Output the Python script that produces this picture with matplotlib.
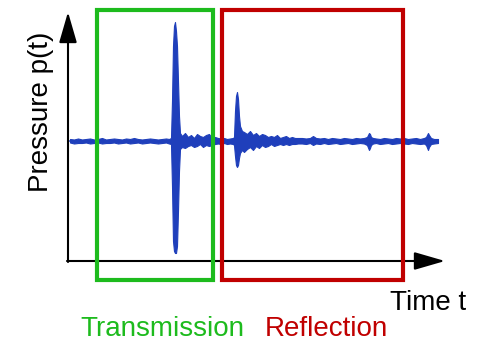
import matplotlib.pyplot as plt
from matplotlib.patches import Rectangle

# time samples (chart units, left to right) and envelope of the pressure trace
# (amplitude above / below the zero line)
t_noise1 = [70, 74, 78, 82, 86, 90, 94, 98, 102, 106, 110, 114, 118, 122,
            126, 130, 134, 138, 142, 146, 150, 154, 158, 162, 166, 169]
up_noise1 = [2, 1.5, 2.5, 1.5, 2, 2.5, 1.5, 2, 3, 1.5, 2, 2.5, 2, 1.5,
             2.5, 2, 3, 2, 1.5, 2, 2.5, 2, 1.5, 2, 2.5, 2]
lo_noise1 = [1.5, 2.5, 2, 2, 1.5, 2.5, 2, 1.5, 2.5, 2, 2, 1.5, 2.5, 2,
             1.5, 2.5, 2, 1.5, 2.5, 2, 1.5, 2, 2.5, 2, 1.5, 2.5]

t_spike1 = [171, 172, 173, 174, 175, 176, 177, 178, 179, 180]
up_spike1 = [3, 40, 95, 115, 119, 110, 95, 60, 25, 8]
lo_spike1 = [3, 45, 100, 110, 112, 112, 105, 70, 30, 8]

t_coda1 = [182, 185, 188, 191, 194, 197, 200, 203, 206, 209, 212, 215,
           218, 221, 224, 227, 230, 233]
up_coda1 = [5, 8, 4, 6, 3, 7, 5, 4, 6, 7, 3, 4, 3, 2.5, 3, 2, 2.5, 3]
lo_coda1 = [6, 7, 5, 4, 6, 5, 3, 6, 4, 5, 4, 3, 2.5, 3, 2, 3, 2.5, 3]

t_spike2 = [234, 235, 236, 237, 238, 239, 240, 242]
up_spike2 = [4, 30, 45, 49, 42, 25, 15, 10]
lo_spike2 = [4, 15, 24, 26, 24, 17, 12, 9]

t_coda2 = [244, 247, 250, 253, 256, 259, 262, 265, 268, 271, 274, 277,
           280, 283, 286, 289, 292, 295, 298]
up_coda2 = [9, 7, 10, 6, 8, 5, 7, 6, 4, 5, 4, 6, 3, 4, 5, 3, 4, 3, 3]
lo_coda2 = [11, 8, 6, 9, 5, 7, 4, 6, 5, 3, 5, 4, 3, 4, 3, 4, 3, 3, 2.5]

t_tail = [302, 306, 310, 313, 316, 320, 324, 328, 332, 336, 340, 344, 348,
          352, 356, 360, 364, 367, 369, 370, 371, 373, 376, 380, 384, 388,
          392, 396, 400, 404, 408, 412, 416, 420, 424, 426, 428, 429, 431,
          434, 438]
up_tail = [3, 2.5, 3, 5, 3, 2.5, 3, 2, 3, 2.5, 2, 3, 2.5, 2, 3, 2.5, 3, 4,
           8, 7, 4, 3, 2.5, 2, 3, 2.5, 2, 3, 2.5, 3, 2, 2.5, 3, 2, 3, 4,
           8, 6, 3, 2, 2]
lo_tail = [2.5, 3, 2, 4, 2.5, 3, 2, 3, 2.5, 2, 3, 2.5, 2, 3, 2.5, 2, 2.5, 4,
           9, 7, 4, 2.5, 2, 3, 2.5, 2, 3, 2.5, 2, 2.5, 3, 2, 2.5, 3, 2.5, 4,
           9, 6, 3, 2.5, 2]

time = t_noise1 + t_spike1 + t_coda1 + t_spike2 + t_coda2 + t_tail
upper = up_noise1 + up_spike1 + up_coda1 + up_spike2 + up_coda2 + up_tail
lower = [-v for v in lo_noise1 + lo_spike1 + lo_coda1 + lo_spike2 + lo_coda2 + lo_tail]

# windows (time span) for the two parts of the signal
windows = [("Transmission", 97, 213, "#1dbb1d"), ("Reflection", 222, 403, "#c00000")]

plt.rcParams["font.family"] = ["Liberation Sans", "DejaVu Sans"]

fig = plt.figure(figsize=(4.78, 3.43), dpi=100)
ax = fig.add_axes([0, 0, 1, 1])
ax.set_xlim(0, 478)
ax.set_ylim(-202, 141)
ax.axis("off")

trace_color = "#1f3fbb"
ax.fill_between(time, lower, upper, color=trace_color, linewidth=0.8, zorder=3)
ax.plot(time, [0] * len(time), color=trace_color, linewidth=1.2, zorder=3)

# axes drawn as arrows
axis_y0 = -120
arrow_kw = dict(arrowstyle="-|>,head_length=1.9,head_width=0.55", color="black",
                linewidth=1.5, shrinkA=0, shrinkB=0)
ax.annotate("", xy=(68, 129), xytext=(68, axis_y0 - 1), arrowprops=arrow_kw, zorder=2)
ax.annotate("", xy=(445, axis_y0), xytext=(67, axis_y0), arrowprops=arrow_kw, zorder=2)

for name, t0, t1, col in windows:
    ax.add_patch(Rectangle((t0, -139), t1 - t0, 270, fill=False,
                           edgecolor=col, linewidth=3, zorder=4))

ax.text(41, 29, "Pressure p(t)", rotation=90, ha="center", va="center", fontsize=20)
ax.text(466, -169, "Time t", ha="right", va="baseline", fontsize=20)
ax.text(80, -201, "Transmission", ha="left", va="bottom", fontsize=20, color=windows[0][3])
ax.text(265, -201, "Reflection", ha="left", va="bottom", fontsize=20, color=windows[1][3])

fig.savefig("out.png", dpi=100)
